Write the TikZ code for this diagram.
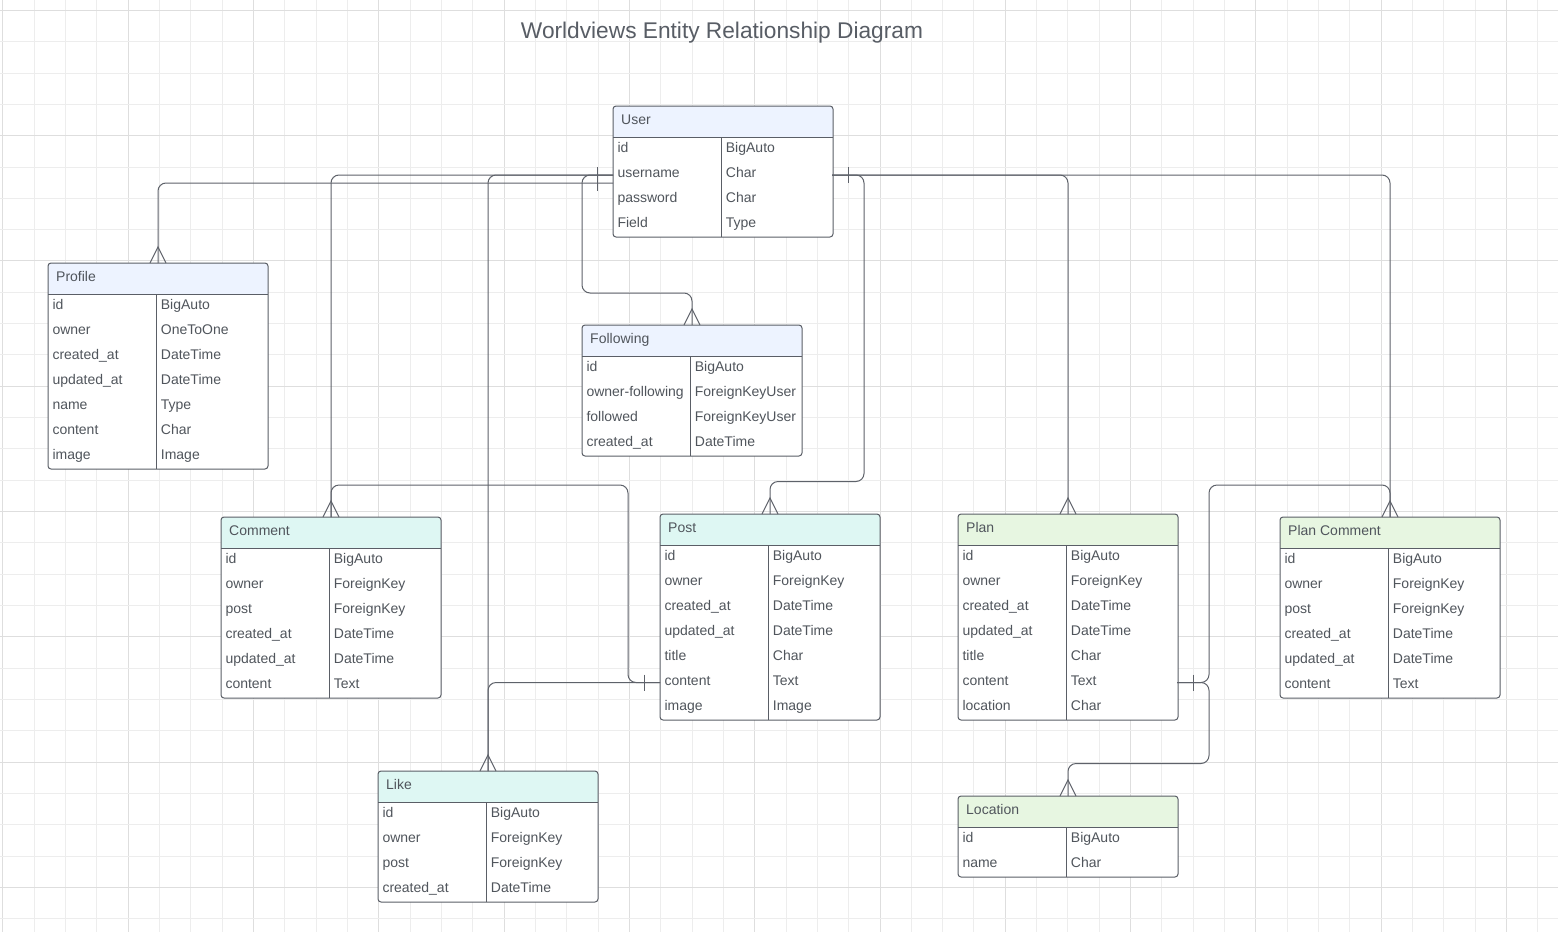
\documentclass[tikz,border=0pt]{standalone}
\usepackage{fontspec}
\setmainfont{Liberation Sans}
\usetikzlibrary{calc}
\definecolor{lineC}{HTML}{5E626A}
\definecolor{boxC}{HTML}{5A5E66}
\definecolor{txtC}{HTML}{50555C}
\definecolor{titleC}{HTML}{585D65}
\definecolor{hdBlue}{HTML}{EDF3FF}
\definecolor{hdTeal}{HTML}{DEF7F3}
\definecolor{hdGreen}{HTML}{E7F6E1}
\definecolor{gridMinor}{HTML}{EDEDED}
\definecolor{gridMajor}{HTML}{DEDEDE}
\tikzset{
  erline/.style={draw=boxC, line width=1pt},
  erframe/.style={draw=boxC, line width=1pt, rounded corners=3pt, minimum width=220pt, inner sep=0pt, outer sep=0pt},
  ertitle/.style={anchor=base west, inner sep=0pt, text=txtC, font=\fontsize{14}{16}\selectfont},
  ercell/.style={anchor=base west, inner sep=0pt, text=txtC, font=\fontsize{14}{16}\selectfont},
  conn/.style={draw=lineC, line width=1pt, rounded corners=8pt},
  erbar/.style={draw=lineC, line width=1pt},
}
\newcommand\erentity[7]{%
  \pgfmathsetmacro\erh{31+25*#6}%
  \begin{scope}
    \clip[rounded corners=3pt] (#2,#3) rectangle ++(220,\erh);
    \fill[white] (#2,#3) rectangle ++(220,\erh);
    \fill[#5] (#2,#3) rectangle ++(220,31);
  \end{scope}
  \draw[erline] (#2,#3+31) -- ++(220,0);
  \draw[erline] (#2+108,#3+31) -- ++(0,{\erh-31});
  \node[erframe, minimum height=\erh pt, anchor=north west] (#1) at (#2,#3) {};
  \node[ertitle] (#1-title) at (#2+8,#3+18.5) {#4};
  \foreach \a/\b [count=\i] in {#7} {
    \node[ercell] (#1-n\i) at (#2+4.3,{#3+31+25*(\i-1)+15.6}) {\a};
    \node[ercell] (#1-t\i) at (#2+112.7,{#3+31+25*(\i-1)+15.6}) {\b};
  }%
}
\newcommand\crowfoot[1]{%
  \draw[erbar] ($(#1.north)+(-8,0)$) -- ($(#1.north)+(0,-16)$) -- ($(#1.north)+(8,0)$);%
}
\begin{document}
\begin{tikzpicture}[x=1pt,y=-1pt]
\useasboundingbox (0,0) rectangle (1558,932);
\fill[white] (0,0) rectangle (1558,932);
% grid
\foreach \i in {0,...,49} {
  \pgfmathtruncatemacro\m{mod(\i,4)}
  \ifnum\m=0
    \draw[gridMajor, line width=0.9pt] ({2.7+31.33*\i},0) -- ({2.7+31.33*\i},932);
  \else
    \draw[gridMinor, line width=0.9pt] ({2.7+31.33*\i},0) -- ({2.7+31.33*\i},932);
  \fi
}
\foreach \j in {0,...,29} {
  \pgfmathtruncatemacro\m{mod(\j,4)}
  \ifnum\m=0
    \draw[gridMajor, line width=0.9pt] (0,{10.3+31.33*\j}) -- (1558,{10.3+31.33*\j});
  \else
    \draw[gridMinor, line width=0.9pt] (0,{10.3+31.33*\j}) -- (1558,{10.3+31.33*\j});
  \fi
}
% title
\node[anchor=base, inner sep=0pt, text=titleC, font=\fontsize{22.7}{26}\selectfont] (title) at (722,38.3) {Worldviews Entity Relationship Diagram};
% entities
\erentity{user}{613}{106}{User}{hdBlue}{4}{id/BigAuto, username/Char, password/Char, Field/Type}
\erentity{profile}{48}{263}{Profile}{hdBlue}{7}{id/BigAuto, owner/OneToOne, created\_at/DateTime, updated\_at/DateTime, name/Type, content/Char, image/Image}
\erentity{following}{582}{325}{Following}{hdBlue}{4}{id/BigAuto, owner-following/ForeignKeyUser, followed/ForeignKeyUser, created\_at/DateTime}
\erentity{comment}{221}{517}{Comment}{hdTeal}{6}{id/BigAuto, owner/ForeignKey, post/ForeignKey, created\_at/DateTime, updated\_at/DateTime, content/Text}
\erentity{post}{660}{514}{Post}{hdTeal}{7}{id/BigAuto, owner/ForeignKey, created\_at/DateTime, updated\_at/DateTime, title/Char, content/Text, image/Image}
\erentity{plan}{958}{514}{Plan}{hdGreen}{7}{id/BigAuto, owner/ForeignKey, created\_at/DateTime, updated\_at/DateTime, title/Char, content/Text, location/Char}
\erentity{plancomment}{1280}{517}{Plan Comment}{hdGreen}{6}{id/BigAuto, owner/ForeignKey, post/ForeignKey, created\_at/DateTime, updated\_at/DateTime, content/Text}
\erentity{like}{378}{771}{Like}{hdTeal}{4}{id/BigAuto, owner/ForeignKey, post/ForeignKey, created\_at/DateTime}
\erentity{location}{958}{796}{Location}{hdGreen}{2}{id/BigAuto, name/Char}
% attachment points
\coordinate (uL1) at (613,175);
\coordinate (uL2) at (613,183);
\coordinate (uR) at (832,175);
\coordinate (postC) at (660,682.5);
\coordinate (planC) at (1177,682.5);
% connectors
\draw[conn] (uL2) -| (profile.north);
\draw[conn] (uL1) -| (comment.north);
\draw[conn] (uL1) -| (like.north);
\draw[conn] (uL1) -- (582,175) -- (582,293) -| (following.north);
\draw[conn] (uR) -- (864,175) -- (864,481.5) -| (post.north);
\draw[conn] (uR) -| (plan.north);
\draw[conn] (uR) -| (plancomment.north);
\draw[conn] (postC) -- (628,682.5) -- (628,485) -| (comment.north);
\draw[conn] (postC) -| (like.north);
\draw[conn] (planC) -- (1209,682.5) -- (1209,485) -| (plancomment.north);
\draw[conn] (planC) -- (1209,682.5) -- (1209,763.5) -| (location.north);
% one-bars
\draw[erbar] ($(uL1)+(-16,-8)$) -- ($(uL1)+(-16,8)$);
\draw[erbar] ($(uL2)+(-16,-8)$) -- ($(uL2)+(-16,8)$);
\draw[erbar] ($(uR)+(16,-8)$) -- ($(uR)+(16,8)$);
\draw[erbar] ($(postC)+(-16,-8)$) -- ($(postC)+(-16,8)$);
\draw[erbar] ($(planC)+(16,-8)$) -- ($(planC)+(16,8)$);
% crow's feet
\crowfoot{profile}
\crowfoot{comment}
\crowfoot{like}
\crowfoot{following}
\crowfoot{post}
\crowfoot{plan}
\crowfoot{plancomment}
\crowfoot{location}
\end{tikzpicture}
\end{document}
